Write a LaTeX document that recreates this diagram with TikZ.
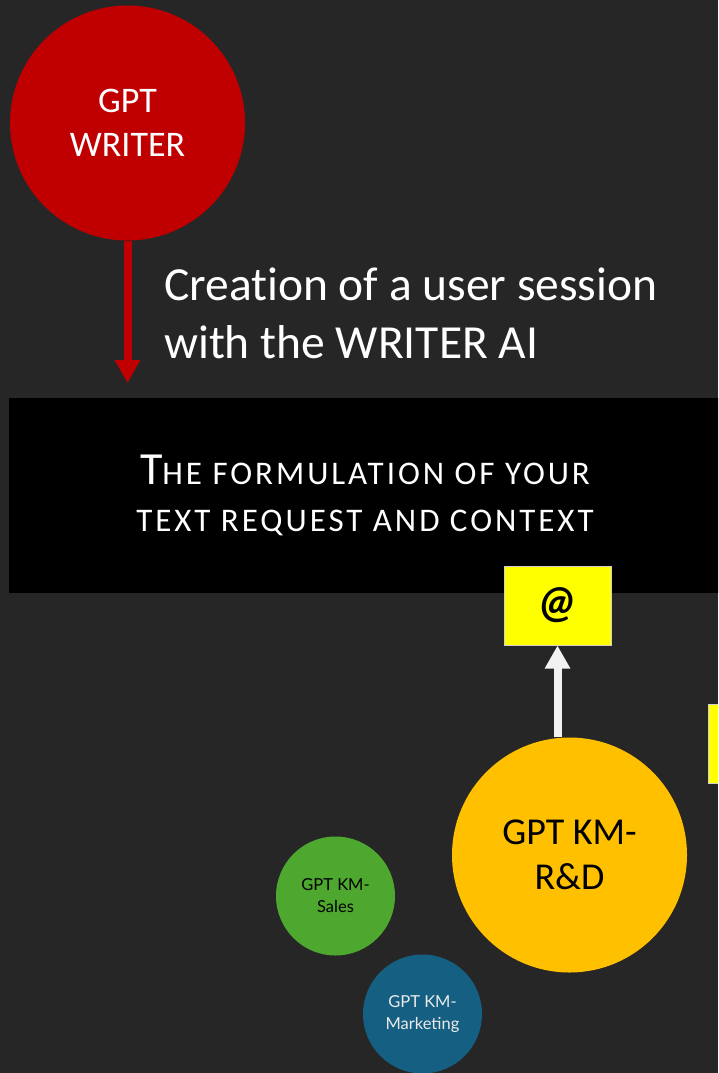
\documentclass[tikz,border=0pt]{standalone}
\usepackage{fontspec}
\setmainfont[Ligatures=NoCommon]{Carlito}
\newfontfamily\kmfont{Lato}
\newfontfamily\spacedfont[Ligatures=NoCommon, LetterSpace=9]{Carlito}
\usetikzlibrary{arrows.meta}

\definecolor{slide}{HTML}{262626}
\definecolor{writerred}{HTML}{C00000}
\definecolor{kmgold}{HTML}{FFC000}
\definecolor{kmgreen}{HTML}{4EA72E}
\definecolor{kmblue}{HTML}{156082}
\definecolor{mailyellow}{HTML}{FFFF00}
\definecolor{arrowwhite}{HTML}{F2F2F2}
\definecolor{boxgray}{HTML}{D0D0D0}

\newcommand{\fs}[2]{\fontsize{#1}{#2}\selectfont}

\begin{document}
\begin{tikzpicture}[
    x=1pt, y=-1pt,
    >={Triangle[width=24pt,length=23pt]},
    bubble/.style={
        circle,
        inner sep=0pt,
        align=center
    },
    bigbubble/.style={
        bubble,
        minimum size=235pt,
        font=\fs{36}{44}
    },
    smallbubble/.style={
        bubble,
        minimum size=119pt,
        font=\kmfont\fs{16.5}{22}
    },
    mailbox/.style={
        draw=boxgray,
        fill=mailyellow,
        rectangle,
        line width=1pt,
        inner sep=0pt
    },
    flow/.style={
        ->,
        line width=8pt
    }
]
\useasboundingbox (0,0) rectangle (718,1073);
\clip (0,0) rectangle (718,1073);
\fill[slide] (0,0) rectangle (718,1073);

\node[bigbubble, fill=writerred, text=white] (writer) at (127.5,123) {GPT\\WRITER};
\coordinate (sessionend) at (127.5,383);
\node[anchor=west, inner sep=0pt, align=left, text=white, font=\fs{47.5}{58}]
    (session) at (164,313) {Creation of a user session\\with the WRITER AI};

\node[fill=black, minimum width=712pt, minimum height=195pt, inner sep=0pt,
    text=white, align=center, font=\spacedfont\fs{33}{47}] (request) at (365,495.5)
    {{\fs{46}{47}T}HE FORMULATION OF YOUR\\TEXT REQUEST AND CONTEXT};

\node[mailbox, minimum width=107pt, minimum height=79pt,
    font=\bfseries\itshape\fs{46}{46}] (mail) at (557.5,605.5) {@};
\node[mailbox, minimum width=40pt, minimum height=79pt] (sidebox) at (728,743.5) {};

\node[bigbubble, fill=kmgold, font=\fs{38}{45}] (rd) at (569.5,855) {GPT KM-\\R\&D};
\node[smallbubble, fill=kmgreen] (sales) at (335.5,896) {GPT KM-\\Sales};
\node[smallbubble, fill=kmblue, text=white!92!black] (marketing) at (422.5,1014) {GPT KM-\\Marketing};

\draw[flow, writerred] (writer.south) -- (sessionend);
\draw[flow, arrowwhite] (mail.south |- rd.north) -- (mail.south);
\end{tikzpicture}
\end{document}
